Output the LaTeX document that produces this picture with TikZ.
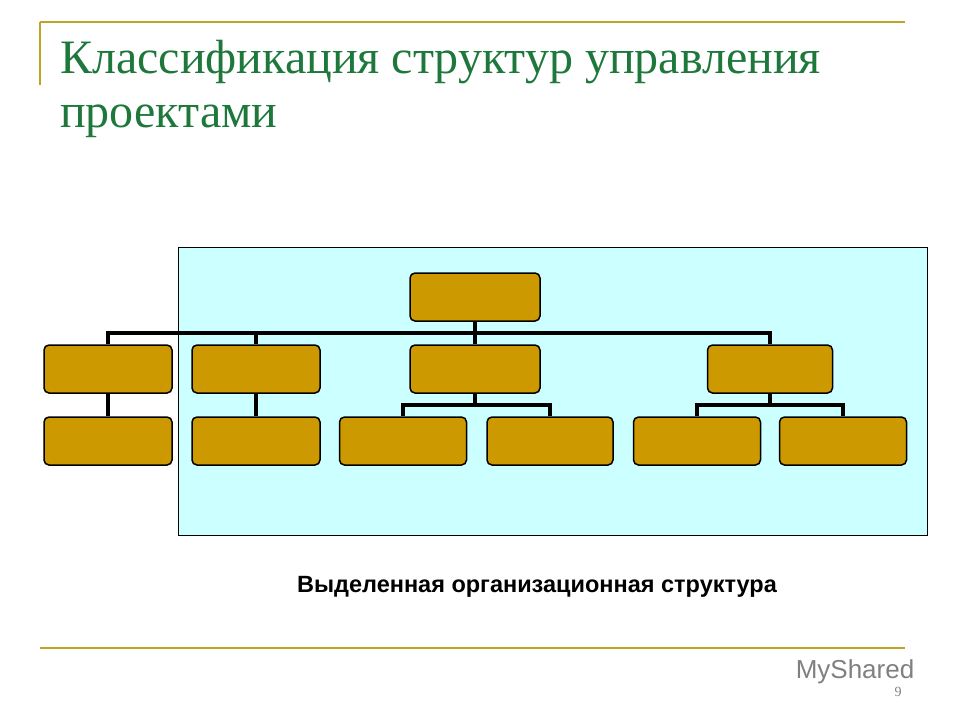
\documentclass[tikz,border=0pt]{standalone}
\usepackage{fontspec}
\setmainfont{Liberation Serif}
\newfontfamily\labelfont{Liberation Sans}
\usetikzlibrary{positioning}
\definecolor{gold}{RGB}{204,153,0}
\definecolor{rule}{RGB}{190,165,40}
\definecolor{titlegreen}{RGB}{30,120,60}
\definecolor{panel}{RGB}{204,255,255}
\tikzset{unit/.style={draw=black, line width=1.5pt, fill=gold, rounded corners=5pt, minimum width=128pt, minimum height=48pt, inner sep=0pt},
link/.style={line width=4pt}}
\begin{document}
\begin{tikzpicture}[x=1pt,y=-1pt]
\useasboundingbox (0,0) rectangle (960,720);
\draw[rule, line width=1.5pt] (40,22) -- (905,22);
\draw[rule, line width=1.5pt] (40,22) -- (40,85);
\draw[rule, line width=1.5pt] (40,648) -- (905,648);
\node[anchor=north west, align=left, text=titlegreen, font=\fontsize{48}{54}\selectfont, inner sep=0pt] (title) at (60,40) {Классификация структур управления\\проектами};
\draw[fill=panel] (178,247) rectangle (927,535);
% levels
\node[unit, minimum width=130pt] (root) at (475,297) {};
\node[unit] (a) at (108,369) {};
\node[unit] (b) at (256,369) {};
\node[unit, minimum width=130pt] (c) at (475,369) {};
\node[unit, minimum width=125pt] (d) at (770,369) {};
\node[unit] (a1) at (108,441) {};
\node[unit] (b1) at (256,441) {};
\node[unit, minimum width=127pt] (c1) at (403,441) {};
\node[unit, minimum width=126pt] (c2) at (550,441) {};
\node[unit, minimum width=127pt] (d1) at (697,441) {};
\node[unit, minimum width=127pt] (d2) at (843,441) {};
\coordinate (bus) at (475,333);
\coordinate (cbus) at (475,405);
\coordinate (dbus) at (770,405);
% connectors
\draw[link] (root.south) -- (bus);
\foreach \n in {a,b,c,d} \draw[link] (bus) -| (\n.north);
\foreach \n in {c1,c2} \draw[link] (c.south) -- (cbus) -| (\n.north);
\foreach \n in {d1,d2} \draw[link] (d.south) -- (dbus) -| (\n.north);
\draw[link] (a.south) -- (a1.north);
\draw[link] (b.south) -- (b1.north);
\node[font=\labelfont\bfseries\fontsize{23.5}{28}\selectfont] (caption) at (537,587) {Выделенная организационная структура};
\node[font=\labelfont\fontsize{26}{30}\selectfont, text=gray] (logo) at (855,672) {MyShared};
\node[font=\fontsize{14}{16}\selectfont, text=gray] (page) at (898,692) {9};
\end{tikzpicture}
\end{document}
